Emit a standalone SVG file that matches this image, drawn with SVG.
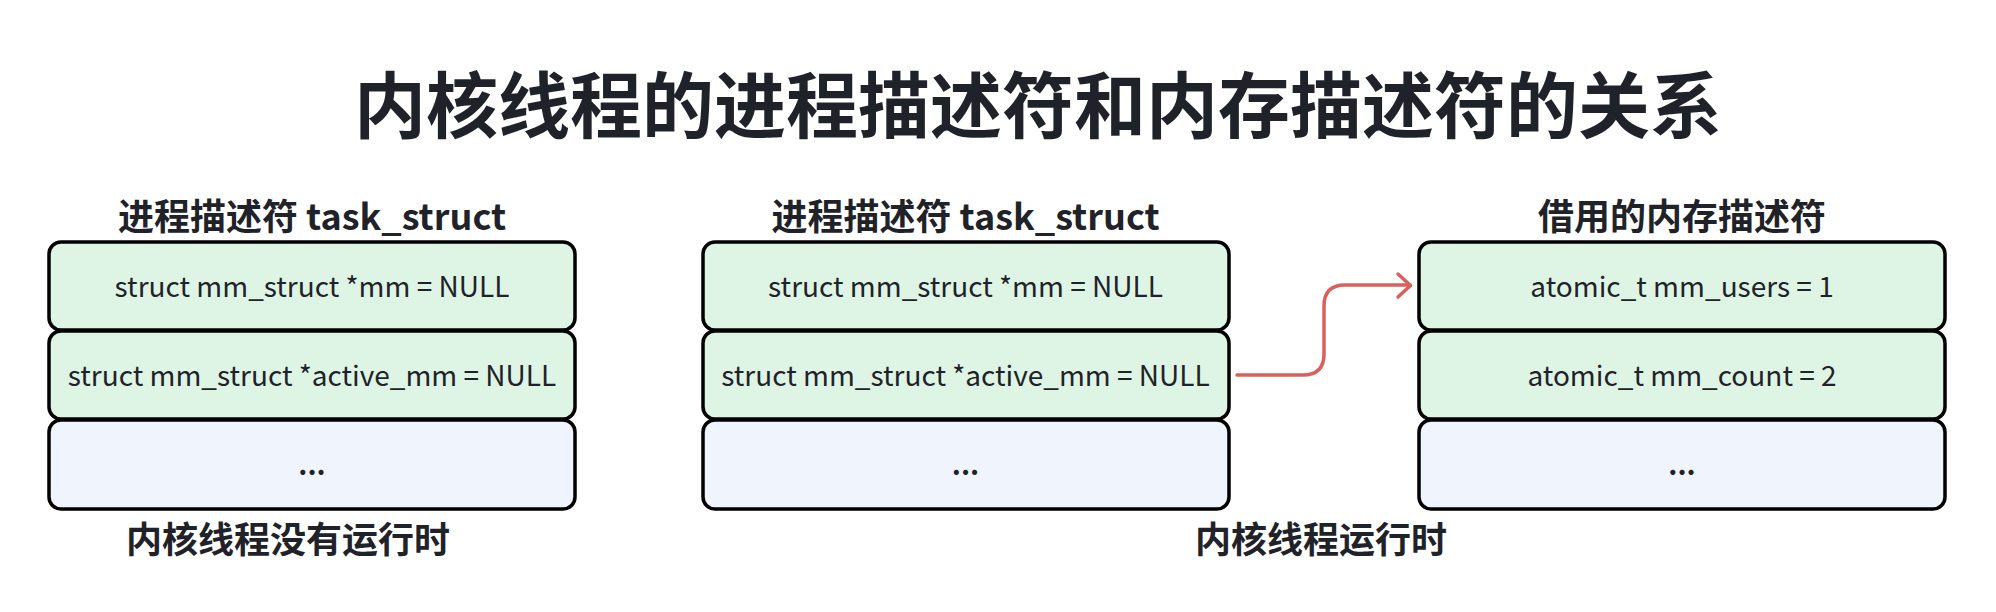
<svg xmlns="http://www.w3.org/2000/svg" width="1996" height="612" viewBox="0 0 1996 612">
<style>
  text { font-family: "Noto Sans CJK SC", "Noto Sans", sans-serif; fill: #1f2329; text-anchor: middle; }
  .title { font-size: 72px; font-weight: 700; }
  .head { font-size: 36px; font-weight: 700; }
  .cell { font-size: 28px; font-weight: 400; }
  .dots { font-size: 28px; font-weight: 700; }
  .g { fill: #def5e5; stroke: #000; stroke-width: 3.5; }
  .b { fill: #eff4fd; stroke: #000; stroke-width: 3.5; }
  .conn { fill: none; stroke: #d9605c; stroke-width: 3.5; stroke-linecap: round; stroke-linejoin: round; }
</style>
<rect width="1996" height="612" fill="#ffffff"/>
<text class="title" x="1038" y="132">内核线程的进程描述符和内存描述符的关系</text>

<g id="left-task">
  <text class="head" x="312" y="230">进程描述符 task_struct</text>
  <rect class="g" x="49" y="242" width="526" height="88" rx="12"/>
  <text class="cell" x="312" y="297">struct mm_struct *mm = NULL</text>
  <rect class="g" x="49" y="331" width="526" height="88" rx="12"/>
  <text class="cell" x="312" y="386">struct mm_struct *active_mm = NULL</text>
  <rect class="b" x="49" y="420" width="526" height="89" rx="12"/>
  <text class="dots" x="312" y="475">...</text>
</g>

<g id="mid-task">
  <text class="head" x="965.5" y="230">进程描述符 task_struct</text>
  <rect class="g" x="703" y="242" width="526" height="88" rx="12"/>
  <text class="cell" x="965.5" y="297">struct mm_struct *mm = NULL</text>
  <rect class="g" x="703" y="331" width="526" height="88" rx="12"/>
  <text class="cell" x="965.5" y="386">struct mm_struct *active_mm = NULL</text>
  <rect class="b" x="703" y="420" width="526" height="89" rx="12"/>
  <text class="dots" x="965.5" y="475">...</text>
</g>

<g id="right-mm">
  <text class="head" x="1682" y="230">借用的内存描述符</text>
  <rect class="g" x="1419" y="242" width="526" height="88" rx="12"/>
  <text class="cell" x="1682" y="297">atomic_t mm_users = 1</text>
  <rect class="g" x="1419" y="331" width="526" height="88" rx="12"/>
  <text class="cell" x="1682" y="386">atomic_t mm_count = 2</text>
  <rect class="b" x="1419" y="420" width="526" height="89" rx="12"/>
  <text class="dots" x="1682" y="475">...</text>
</g>

<g id="label-left">
  <text class="head" x="288" y="553">内核线程没有运行时</text>
</g>
<g id="label-right">
  <text class="head" x="1321" y="553">内核线程运行时</text>
</g>

<g id="connectors">
  <path class="conn" d="M1237,375 L1303,375 Q1324,375 1324,354 L1324,306 Q1324,285 1345,285 L1410,285"/>
  <path class="conn" d="M1398,274 L1410.5,285.5 L1398,297"/>
</g>
</svg>
